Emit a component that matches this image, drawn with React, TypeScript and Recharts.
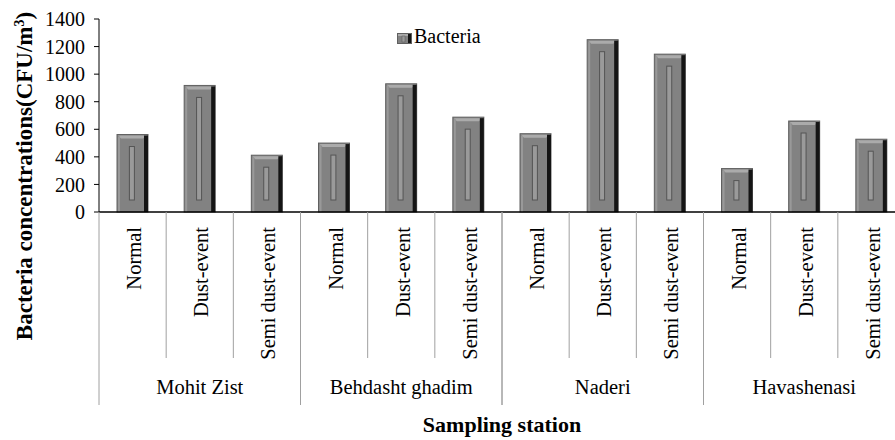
import { BarChart, Bar, XAxis, YAxis } from 'recharts';

const stations = ['Mohit Zist', 'Behdasht ghadim', 'Naderi', 'Havashenasi'];
const conditions = ['Normal', 'Dust-event', 'Semi dust-event'];
// CFU/m3, three sampling conditions per station
const bacteria = [562, 918, 412, 500, 930, 688, 568, 1250, 1145, 315, 660, 528];
const yTicks = [0, 200, 400, 600, 800, 1000, 1200, 1400];

const data = bacteria.map((v, i) => ({
  key: `c${i}`,
  station: stations[Math.floor(i / 3)],
  condition: conditions[i % 3],
  Bacteria: v,
}));

const SERIF = '"Liberation Serif", "Times New Roman", serif';

// grey bar with a bevelled top, dark right edge and a thin inner highlight
const BevelBar = (props: any) => {
  const { x, y, width, height } = props;
  if (!height || height <= 0) return null;
  const inset = 12;
  const lineX = x + width * 0.4;
  return (
    <g>
      <rect x={x} y={y} width={width} height={height} fill="#828282" stroke="#606060" strokeWidth={1} />
      <polygon
        points={`${x + 1},${y + 1} ${x + width - 1},${y + 1} ${x + width - 5},${y + 4} ${x + 4},${y + 4}`}
        fill="#ababab"
      />
      <rect x={x + 1} y={y + 2} width={2} height={height - 2} fill="#999" />
      <rect x={x + width - 4} y={y + 1} width={4} height={height - 1} fill="#151515" />
      {height > inset * 2 + 4 && (
        <rect
          x={lineX}
          y={y + inset}
          width={5}
          height={height - inset * 2}
          fill="#9a9a9a"
          stroke="#555"
          strokeWidth={1}
        />
      )}
    </g>
  );
};

const CategoryTick = (props: any) => {
  const { x, y, payload, index } = props;
  const half = payload && payload.offset ? payload.offset : 33.6;
  const row = data[index];
  const pos = index % 3;
  return (
    <g>
      <text
        transform={`translate(${x + 8.5},${y + 15}) rotate(-90)`}
        textAnchor="end"
        fontSize={20.5}
        fontFamily={SERIF}
        fill="#000"
      >
        {row.condition}
      </text>
      <line x1={x + half} y1={y} x2={x + half} y2={y + (pos === 2 ? 193 : 146)} stroke="#a0a0a0" />
      {pos === 0 && <line x1={x - half} y1={y} x2={x - half} y2={y + 193} stroke="#a0a0a0" />}
      {pos === 1 && (
        <text x={x} y={y + 182} textAnchor="middle" fontSize={20.5} fontFamily={SERIF} fill="#000">
          {row.station}
        </text>
      )}
    </g>
  );
};

const YTitle = () => (
  <text
    transform="translate(32,176) rotate(-90)"
    textAnchor="middle"
    fontSize={23}
    fontWeight="bold"
    fontFamily={SERIF}
    fill="#000"
  >
    Bacteria concentrations(CFU/m
    <tspan dy={-8} fontSize={14}>3</tspan>
    <tspan dy={8}>)</tspan>
  </text>
);

export default function App() {
  return (
    <div
      style={{
        position: 'absolute',
        left: 0,
        top: 0,
        width: 895,
        height: 440,
        overflow: 'hidden',
        background: '#fff',
      }}
    >
      <BarChart
        width={910}
        height={440}
        data={data}
        margin={{ top: 19, right: 5, bottom: 0, left: 0 }}
        barSize={31}
      >
        <XAxis
          dataKey="key"
          interval={0}
          height={228}
          tickSize={0}
          tickMargin={0}
          tickLine={false}
          axisLine={{ stroke: '#000', strokeWidth: 1.5 }}
          tick={<CategoryTick />}
          label={{
            value: 'Sampling station',
            position: 'insideBottom',
            offset: 8,
            style: { fontFamily: SERIF, fontSize: 22, fontWeight: 'bold', fill: '#000' },
          }}
        />
        <YAxis
          width={99}
          domain={[0, 1400]}
          ticks={yTicks}
          interval={0}
          tickSize={5}
          tickMargin={9}
          axisLine={{ stroke: '#000' }}
          tickLine={{ stroke: '#000' }}
          tick={{ fontFamily: SERIF, fontSize: 20, fill: '#000' }}
          label={{ content: () => <YTitle /> }}
        />
        <Bar dataKey="Bacteria" shape={<BevelBar />} isAnimationActive={false} />
      </BarChart>
      <div
        style={{
          position: 'absolute',
          left: 397,
          top: 30,
          display: 'flex',
          alignItems: 'center',
          fontFamily: SERIF,
          fontSize: 20,
          lineHeight: '20px',
          color: '#000',
        }}
      >
        <svg width={15} height={11} style={{ marginRight: 2 }}>
          <rect x={0.5} y={0.5} width={14} height={10} fill="#828282" stroke="#606060" />
          <rect x={1} y={1} width={13} height={2} fill="#ababab" />
          <rect x={11} y={1} width={3} height={9} fill="#151515" />
          <rect x={5} y={3} width={3} height={6} fill="#9a9a9a" stroke="#555" strokeWidth={0.5} />
        </svg>
        <span style={{ marginTop: -4 }}>Bacteria</span>
      </div>
    </div>
  );
}
